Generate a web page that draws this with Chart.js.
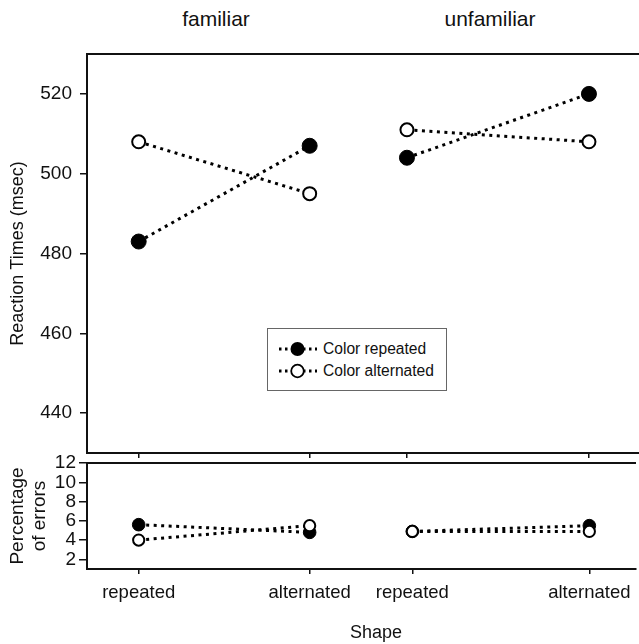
<!DOCTYPE html>
<html>
<head>
<meta charset="utf-8">
<script src="https://cdn.jsdelivr.net/npm/chart.js@4.4.0/dist/chart.umd.min.js"></script>
<style>
html,body{margin:0;padding:0;background:#fff;}
body{width:639px;height:644px;position:relative;overflow:hidden;font-family:'Liberation Sans',Arial,sans-serif;color:#111;}
canvas{position:absolute;}
.txt{position:absolute;white-space:nowrap;transform:translate(-50%,-50%);line-height:1;}
#legend{position:absolute;left:267px;top:328px;width:178px;height:61px;border:1px solid #666;background:#fff;z-index:5;}
.lrow{position:absolute;left:0;height:18px;width:178px;}
.lrow svg{position:absolute;left:10px;top:0;}
.lrow span{position:absolute;left:55px;top:50%;transform:translateY(-50%);font-size:15.6px;line-height:1;white-space:nowrap;}
</style>
</head>
<body>
<div class="txt" id="t-fam" style="left:216px;top:18px;font-size:21px;"></div>
<div class="txt" id="t-unf" style="left:490px;top:18px;font-size:21px;"></div>
<canvas id="cTL" width="360" height="444" style="left:0;top:30px;width:360px;height:444px;"></canvas>
<canvas id="cTR" width="281" height="444" style="left:358px;top:30px;width:281px;height:444px;"></canvas>
<canvas id="cBL" width="360" height="204" style="left:0;top:440px;width:360px;height:204px;"></canvas>
<canvas id="cBR" width="281" height="204" style="left:358px;top:440px;width:281px;height:204px;"></canvas>
<div class="txt" id="t-shape" style="left:376px;top:632px;font-size:18px;"></div>
<div id="legend">
  <div class="lrow" style="top:11px;">
    <svg width="40" height="18" viewBox="0 0 40 18"><line x1="1" y1="9" x2="39" y2="9" stroke="#000" stroke-width="3" stroke-dasharray="2.5 3.5"/><circle cx="19.5" cy="9" r="7" fill="#000"/></svg>
    <span id="lg0"></span>
  </div>
  <div class="lrow" style="top:33px;">
    <svg width="40" height="18" viewBox="0 0 40 18"><line x1="1" y1="9" x2="39" y2="9" stroke="#000" stroke-width="3" stroke-dasharray="2.5 3.5"/><circle cx="19.5" cy="9" r="6.3" fill="#fff" stroke="#000" stroke-width="1.8"/></svg>
    <span id="lg1"></span>
  </div>
</div>
<script>
// ---- data ----
const familiarityLabels = ['familiar', 'unfamiliar'];
const shapeLabels = ['repeated', 'alternated'];
const seriesLabels = ['Color repeated', 'Color alternated'];
const xAxisTitle = 'Shape';
const rtAxisTitle = 'Reaction Times (msec)';
const errAxisTitle = ['Percentage', 'of errors'];
const rtTicks = [440, 460, 480, 500, 520];
const errTicks = [2, 4, 6, 8, 10, 12];

const rtFamiliarColorRepeated = [483, 507];
const rtFamiliarColorAlternated = [508, 495];
const rtUnfamiliarColorRepeated = [504, 520];
const rtUnfamiliarColorAlternated = [511, 508];

const errFamiliarColorRepeated = [5.6, 4.8];
const errFamiliarColorAlternated = [4.0, 5.5];
const errUnfamiliarColorRepeated = [4.9, 5.5];
const errUnfamiliarColorAlternated = [4.9, 4.9];

// ---- text ----
document.getElementById('t-fam').textContent = familiarityLabels[0];
document.getElementById('t-unf').textContent = familiarityLabels[1];
document.getElementById('t-shape').textContent = xAxisTitle;
document.getElementById('lg0').textContent = seriesLabels[0];
document.getElementById('lg1').textContent = seriesLabels[1];

Chart.defaults.font.family = "'Liberation Sans', Arial, sans-serif";
Chart.defaults.color = '#111';

const INK = '#111';

function build(id, o) {
  const toPts = arr => arr.map((v, i) => ({x: i, y: v}));
  return new Chart(document.getElementById(id), {
    type: 'line',
    data: {
      datasets: [
        {
          label: seriesLabels[0], data: toPts(o.repeated),
          borderColor: '#000', borderWidth: 3, borderDash: [3, 4.5], fill: false, tension: 0,
          pointRadius: o.rFill, pointBackgroundColor: '#000', pointBorderColor: '#000', pointBorderWidth: 1,
          order: 2, clip: false
        },
        {
          label: seriesLabels[1], data: toPts(o.alternated),
          borderColor: '#000', borderWidth: 3, borderDash: [3, 4.5], fill: false, tension: 0,
          pointRadius: o.rOpen, pointBackgroundColor: '#fff', pointBorderColor: '#000', pointBorderWidth: 2,
          order: 1, clip: false
        }
      ]
    },
    options: {
      responsive: false, animation: false, events: [],
      layout: {autoPadding: false, padding: {top: o.padTop, left: 0, right: 0, bottom: 0}},
      plugins: {legend: {display: false}, tooltip: {enabled: false}, title: {display: false}},
      scales: {
        x: {
          type: 'linear', position: 'bottom', min: o.xMin, max: o.xMax,
          afterBuildTicks: s => { s.ticks = shapeLabels.map((_, i) => ({value: i})); },
          afterFit: s => { s.height = o.xAxisH; },
          grid: {display: true, drawOnChartArea: false, drawTicks: true, tickLength: 5, color: INK, lineWidth: 1.5},
          border: {display: true, color: INK, width: 2},
          ticks: {display: o.showX, autoSkip: false, padding: 8, color: INK, font: {size: 18.5}, maxRotation: 0, callback: v => shapeLabels[v]}
        },
        xTop: {
          type: 'linear', position: 'top', min: o.xMin, max: o.xMax,
          afterFit: s => { s.height = 0; },
          grid: {display: false, drawTicks: false},
          ticks: {display: false},
          border: {display: true, color: INK, width: 2}
        },
        y: {
          type: 'linear', display: o.showY, min: o.yMin, max: o.yMax,
          afterBuildTicks: s => { s.ticks = o.yTicks.map(v => ({value: v})); },
          afterFit: s => { if (o.showY) s.width = 87; },
          grid: {display: true, drawOnChartArea: false, drawTicks: true, tickLength: o.yTickLen, color: INK, lineWidth: 1.5},
          border: {display: true, color: INK, width: 2},
          ticks: {autoSkip: false, padding: o.yTickPad, color: INK, font: {size: 19}},
          title: {display: !!o.yTitle, text: o.yTitle, color: INK, font: {size: o.yTitleSize}, padding: {top: o.yTitlePad, bottom: 0}}
        }
      }
    }
  });
}

build('cTL', {repeated: rtFamiliarColorRepeated, alternated: rtFamiliarColorAlternated,
  yMin: 430, yMax: 530, yTicks: rtTicks, showY: true, yTitle: rtAxisTitle, yTitleSize: 18, yTitlePad: 7,
  yTickLen: 7, yTickPad: 8, showX: false, xMin: -0.3023, xMax: 1.2944, xAxisH: 21, padTop: 24, rFill: 7.5, rOpen: 6.5});
build('cTR', {repeated: rtUnfamiliarColorRepeated, alternated: rtUnfamiliarColorAlternated,
  yMin: 430, yMax: 530, yTicks: rtTicks, showY: false, yTitle: '', yTitleSize: 18, yTitlePad: 0,
  yTickLen: 7, yTickPad: 8, showX: false, xMin: -0.269, xMax: 1.275, xAxisH: 21, padTop: 24, rFill: 7.5, rOpen: 6.5});
build('cBL', {repeated: errFamiliarColorRepeated, alternated: errFamiliarColorAlternated,
  yMin: 1, yMax: 12, yTicks: errTicks, showY: true, yTitle: errAxisTitle, yTitleSize: 19, yTitlePad: 6,
  yTickLen: 8, yTickPad: 3, showX: true, xMin: -0.3023, xMax: 1.2944, xAxisH: 75, padTop: 23, rFill: 6.3, rOpen: 5.6});
build('cBR', {repeated: errUnfamiliarColorRepeated, alternated: errUnfamiliarColorAlternated,
  yMin: 1, yMax: 12, yTicks: errTicks, showY: false, yTitle: '', yTitleSize: 19, yTitlePad: 0,
  yTickLen: 8, yTickPad: 3, showX: true, xMin: -0.307, xMax: 1.263, xAxisH: 75, padTop: 23, rFill: 6.3, rOpen: 5.6});
</script>
</body>
</html>
